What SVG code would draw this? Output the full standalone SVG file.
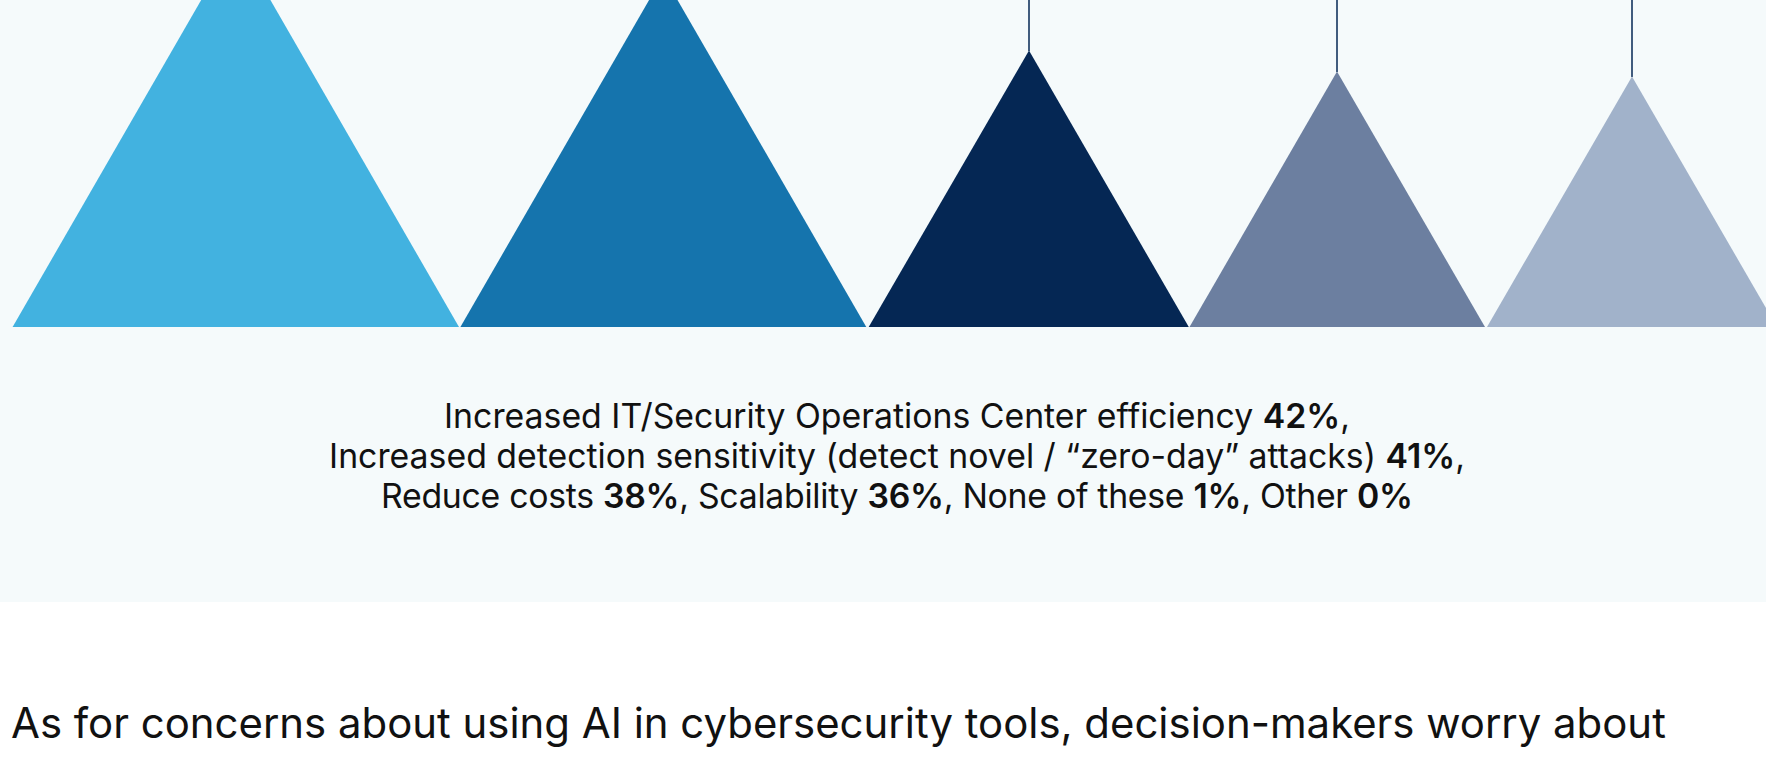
<svg xmlns="http://www.w3.org/2000/svg" width="1766" height="760" viewBox="0 0 1766 760">
<style>
.t{font-family:Inter,"Liberation Sans",sans-serif;fill:#111;}
.mid{font-size:33.8px;text-anchor:middle;}
.b{font-weight:600;}
.big{font-size:41.9px;}
.stem{stroke:#052754;stroke-width:1.5;fill:none;}
</style>
<rect x="0" y="0" width="1766" height="760" fill="#ffffff"/>
<rect x="0" y="0" width="1766" height="602" fill="#f5fafb"/>
<g id="connectors">
<line class="stem" x1="1029" y1="0" x2="1029" y2="51"/>
<line class="stem" x1="1337" y1="0" x2="1337" y2="72"/>
<line class="stem" x1="1632" y1="0" x2="1632" y2="77"/>
</g>
<g id="tri1"><polygon points="235.8,-60 12.6,327 459,327" fill="#42b2e0"/></g>
<g id="tri2"><polygon points="663.3,-24.6 460.4,327 866.3,327" fill="#1574ad"/></g>
<g id="tri3"><polygon points="1029,50.5 868.7,327 1188.8,327" fill="#052754"/></g>
<g id="tri4"><polygon points="1337,71.5 1189.5,327 1485,327" fill="#6c7fa0"/></g>
<g id="tri5"><polygon points="1632,76.5 1487,327 1777,327" fill="#a1b2ca"/></g>
<g id="caption">
<text class="t mid" x="897" y="428">Increased IT/Security Operations Center efficiency <tspan class="b">42%</tspan>,</text>
<text class="t mid" x="897" y="468">Increased detection sensitivity (detect novel / “zero-day” attacks) <tspan class="b">41%</tspan>,</text>
<text class="t mid" x="897" y="508" textLength="1032" lengthAdjust="spacing">Reduce costs <tspan class="b">38%</tspan>, Scalability <tspan class="b">36%</tspan>, None of these <tspan class="b">1%</tspan>, Other <tspan class="b">0%</tspan></text>
</g>
<g id="body-text">
<text class="t big" x="11" y="738">As for concerns about using AI in cybersecurity tools, decision-makers worry about</text>
</g>
</svg>
